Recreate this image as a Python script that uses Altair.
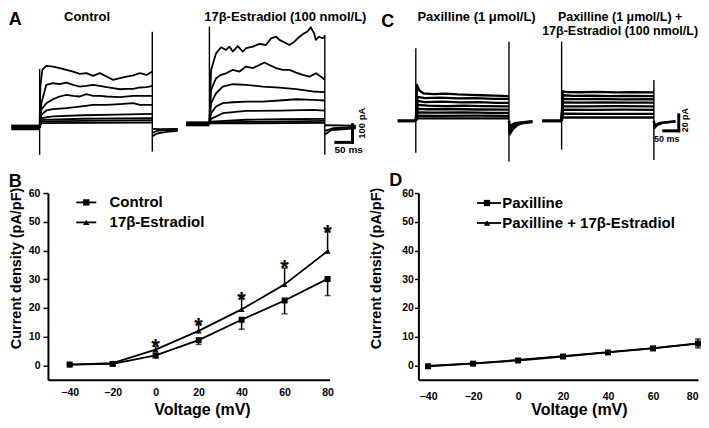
import altair as alt
import pandas as pd

FONT = "Liberation Sans"

# ================= Panel A: K+ current traces (t in ms, I in pA) =================
A_CTRL_TRACES = [
    [(0, 0), (2, 231), (8, 326), (20, 348), (40, 344), (60, 335), (80, 326), (100, 316), (120, 303), (140, 307),
     (160, 292), (180, 307), (200, 288), (220, 269), (240, 279), (260, 288), (280, 294), (300, 307), (320, 297), (337, 316)],
    [(0, 0), (5, 137), (20, 241), (40, 250), (60, 245), (80, 254), (100, 241), (120, 231), (140, 235), (160, 241),
     (180, 235), (200, 228), (220, 222), (240, 216), (260, 218), (280, 218), (300, 226), (320, 228), (337, 235)],
    [(0, 0), (5, 100), (20, 137), (40, 160), (60, 175), (80, 184), (100, 179), (120, 175), (140, 188), (160, 179),
     (180, 179), (200, 175), (240, 171), (280, 179), (320, 179), (337, 179)],
    [(0, 0), (5, 71), (20, 96), (40, 103), (80, 109), (120, 118), (160, 128), (200, 128), (240, 132), (280, 137),
     (300, 128), (337, 128)],
    [(0, 0), (5, 53), (40, 62), (130, 69), (230, 73), (337, 77)],
    [(0, 0), (5, 43), (130, 49), (337, 53)],
    [(0, 0), (5, 34), (130, 37), (337, 41)],
    [(0, 0), (5, 24), (337, 28)],
]
A_CTRL_TAILS = [
    [(338, -8), (360, -10), (413, -9)],
    [(338, -30), (350, -20), (380, -15), (413, -12)],
    [(338, -50), (350, -35), (380, -25), (413, -20)],
]
A_CTRL_HOLD_T = [-85, 0]          # holding period before the step (ms)
A_CTRL_HOLD_NOISE = [-16, 16]     # noise band of the superimposed holding currents (pA)
A_CTRL_SPIKES = [(0, -155, 330), (337, -136, 542)]

A_E2_TRACES = [
    [(0, 0), (5, 305), (20, 399), (35, 433), (50, 418), (60, 437), (70, 409), (85, 440), (100, 409), (110, 428),
     (130, 437), (150, 452), (170, 446), (185, 484), (200, 493), (210, 475), (230, 456), (240, 446), (255, 465),
     (270, 493), (284, 512), (294, 522), (304, 546), (314, 512), (319, 475), (329, 493), (339, 484), (346, 493)],
    [(0, 0), (5, 192), (20, 258), (35, 277), (50, 286), (70, 305), (90, 296), (110, 324), (130, 315), (150, 333),
     (165, 347), (180, 333), (200, 315), (220, 305), (240, 305), (260, 290), (280, 277), (300, 267), (320, 286),
     (334, 267), (346, 249)],
    [(0, 0), (5, 117), (20, 173), (40, 211), (70, 224), (110, 220), (160, 211), (210, 205), (260, 196), (310, 183), (346, 179)],
    [(0, 0), (5, 60), (20, 98), (40, 117), (70, 122), (110, 126), (160, 126), (210, 132), (260, 139), (310, 136), (346, 132)],
    [(0, 0), (5, 28), (40, 60), (110, 73), (210, 75), (310, 79), (346, 75)],
    [(0, 0), (5, 13), (110, 23), (210, 26), (346, 28)],
    [(0, 0), (5, 8), (110, 11), (346, 17)],
    [(0, 0), (5, 2), (346, 5)],
]
A_E2_TAILS = [
    [(347, -8), (439, -10)],
    [(347, -40), (370, -25), (439, -18)],
    [(347, -60), (365, -35), (439, -25)],
]
A_E2_HOLD_T = [-70, 0]
A_E2_HOLD_NOISE = [-14, 14]
A_E2_SPIKES = [(0, 0, 550), (346, -175, 503)]
A_SCALEBAR = [(379, -105, 429, -105), (429, -105, 429, -5)]   # 50 ms, 100 pA

# ================= Panel C: traces with paxilline =================
C_PAX_TRACES = [
    [(0, 0), (4, 45), (12, 38), (25, 34.5), (60, 33.5), (100, 34), (140, 33), (180, 32.5), (220, 32), (260, 31.5), (311, 31)],
    [(0, 0), (6, 30), (30, 28.5), (80, 29), (140, 28), (200, 28.5), (260, 27.5), (311, 27.5)],
    [(0, 0), (6, 25), (30, 23.5), (90, 24), (150, 23), (210, 23.5), (270, 22.5), (311, 22.5)],
    [(0, 0), (6, 20), (40, 19), (100, 18.5), (160, 19), (220, 18.5), (311, 18)],
    [(0, 0), (6, 15), (40, 14.5), (120, 14.8), (200, 14.2), (311, 14)],
    [(0, 0), (6, 10.5), (60, 10.2), (160, 10.5), (250, 10), (311, 10)],
    [(0, 0), (6, 6.5), (80, 6.3), (200, 6.5), (311, 6.2)],
    [(0, 0), (6, 3.2), (100, 3), (311, 3)],
]
C_PAX_TAILS = [
    [(311, 0), (313, -17), (325, -10), (340, -5), (355, -3), (389, -1.7)],
    [(311, 0), (313, -12), (325, -7), (345, -3), (389, -1)],
    [(311, 0), (313, -7), (330, -3), (389, -0.5)],
]
C_PAX_HOLD_T = [-61, 0]
C_PAX_HOLD_NOISE = [-2, 2]
C_PAX_SPIKES = [(0, -40, 91), (311, -51, 99)]

C_PE_TRACES = [
    [(0, 0), (4, 37), (20, 36), (60, 35.8), (120, 36.2), (180, 35.5), (240, 35.8), (308, 35.5)],
    [(0, 0), (4, 32), (40, 31.3), (100, 31.6), (160, 31), (220, 31.3), (308, 31)],
    [(0, 0), (4, 27.5), (50, 27.1), (120, 27.4), (200, 26.9), (308, 27)],
    [(0, 0), (4, 23.2), (60, 22.9), (150, 23.2), (230, 22.7), (308, 22.9)],
    [(0, 0), (4, 18.2), (80, 18), (180, 18.3), (308, 18)],
    [(0, 0), (4, 14), (100, 13.8), (200, 14), (308, 13.8)],
    [(0, 0), (4, 9), (120, 8.8), (308, 8.8)],
    [(0, 0), (4, 4.3), (150, 4.2), (308, 4.2)],
]
C_PE_TAILS = [
    [(308, 0), (310, -9), (320, -5), (340, -2), (380, -1)],
    [(308, 0), (310, -6), (325, -3), (380, -0.5)],
]
C_PE_HOLD_T = [-65, 0]
C_PE_HOLD_NOISE = [-2, 2]
C_PE_SPIKES = [(0, -36, 99), (308, -49, 51)]
C_SCALEBAR = [(341, -12.5, 391, -12.5), (391, -12.5, 391, 7.5)]   # 50 ms, 20 pA

# ================= Panels B and D: current density vs voltage =================
VOLTAGE = [-40, -20, 0, 20, 40, 60, 80]
B_CONTROL = [0.3, 0.5, 3.5, 8.8, 15.9, 22.6, 30.1]
B_CONTROL_ERR = [0.3, 0.3, 0.9, 1.5, 3.3, 4.6, 5.8]
B_E2 = [0.3, 0.8, 5.5, 12.0, 19.5, 28.2, 39.8]
B_E2_ERR = [0.3, 0.4, 1.1, 2.7, 4.5, 5.7, 7.4]
B_STAR_V = [0, 20, 40, 60, 80]
B_STAR_Y = [10.4, 18.0, 27.0, 38.0, 50.3]

D_PAX = [-0.3, 0.6, 1.7, 3.1, 4.5, 5.9, 7.6]
D_PAX_ERR = [0.3, 0.4, 0.4, 0.5, 0.5, 0.6, 1.5]
D_PE = [-0.2, 0.7, 1.9, 3.2, 4.6, 6.0, 7.7]
D_PE_ERR = [0.3, 0.4, 0.4, 0.5, 0.5, 0.6, 1.5]


def to_long(traces):
    rows = []
    for k, tr in enumerate(traces):
        for j, (t, c) in enumerate(tr):
            rows.append({"trace": k, "ord": j, "t": t, "I": c})
    return pd.DataFrame(rows)


def trace_layer(traces, tails, hold_t, hold_noise, spikes, xdom, ydom, lw, scalebar=None):
    xs = alt.Scale(domain=xdom, nice=False, zero=False)
    ys = alt.Scale(domain=ydom, nice=False, zero=False)
    lines = alt.Chart(to_long(traces + tails)).mark_line(
        color="black", strokeWidth=lw, strokeJoin="round").encode(
        x=alt.X("t:Q", scale=xs, axis=None),
        y=alt.Y("I:Q", scale=ys, axis=None),
        detail="trace:N", order="ord:Q")
    hold_df = pd.DataFrame({"t0": [hold_t[0]], "t1": [hold_t[1]],
                            "lo": [hold_noise[0]], "hi": [hold_noise[1]]})
    hold_band = alt.Chart(hold_df).mark_rect(color="black").encode(
        x=alt.X("t0:Q", scale=xs, axis=None), x2="t1:Q",
        y=alt.Y("lo:Q", scale=ys, axis=None), y2="hi:Q")
    spk = pd.DataFrame(spikes, columns=["t", "lo", "hi"])
    spike_rules = alt.Chart(spk).mark_rule(color="black", strokeWidth=1.4).encode(
        x=alt.X("t:Q", scale=xs, axis=None), y=alt.Y("lo:Q", scale=ys, axis=None), y2="hi:Q")
    layers = [hold_band, lines, spike_rules]
    if scalebar is not None:
        sb = pd.DataFrame(scalebar, columns=["t1", "I1", "t2", "I2"])
        layers.append(alt.Chart(sb).mark_rule(color="black", strokeWidth=3, strokeCap="square").encode(
            x=alt.X("t1:Q", scale=xs, axis=None), x2="t2:Q",
            y=alt.Y("I1:Q", scale=ys, axis=None), y2="I2:Q"))
    return alt.layer(*layers)


def label(text, x, y, size, align="center", baseline="top", angle=0):
    return alt.Chart(pd.DataFrame({"s": [text]})).mark_text(
        font=FONT, fontWeight="bold", fontSize=size, align=align, baseline=baseline,
        angle=angle, color="black").encode(x=alt.value(x), y=alt.value(y), text="s:N")


LEFT = -39.3   # left edge of panel letters / y titles, relative to the first column
TOP_H = 157

# ---------- Panel A cell ----------
A_ctrl = trace_layer(A_CTRL_TRACES, A_CTRL_TAILS, A_CTRL_HOLD_T, A_CTRL_HOLD_NOISE, A_CTRL_SPIKES,
                     [24.85, 867.2], [-229.9, 657.1], 1.8)
A_e2 = trace_layer(A_E2_TRACES, A_E2_TAILS, A_E2_HOLD_T, A_E2_HOLD_NOISE, A_E2_SPIKES,
                   [-484.1, 360.2], [-250.3, 636.7], 1.8, A_SCALEBAR)
A = alt.layer(
    A_ctrl, A_e2,
    label("A", LEFT, 0, 18, align="left"),
    label("Control", 39.2, 0, 13),
    label("17β-Estradiol (100 nmol/L)", 237.7, 0, 13),
    label("50 ms", 301.2, 139, 10, baseline="middle"),
    label("100 pA", 314.7, 112, 9.5, baseline="middle", angle=270),
).resolve_scale(x="independent", y="independent").properties(width=282, height=TOP_H)

# ---------- Panel C cell ----------
C_pax = trace_layer(C_PAX_TRACES, C_PAX_TAILS, C_PAX_HOLD_T, C_PAX_HOLD_NOISE, C_PAX_SPIKES,
                    [8.67, 942.0], [-59.1, 137.1], 2.3)
C_pe = trace_layer(C_PE_TRACES, C_PE_TAILS, C_PE_HOLD_T, C_PE_HOLD_NOISE, C_PE_SPIKES,
                   [-478.0, 455.3], [-59.1, 137.1], 2.3, C_SCALEBAR)
C = alt.layer(
    C_pax, C_pe,
    label("C", -37.3, 2, 18, align="left"),
    label("Paxilline (1 μmol/L)", 58.2, 0, 13),
    label("Paxilline (1 μmol/L) +", 202.0, 0, 12.5),
    label("17β-Estradiol (100 nmol/L)", 202.0, 14, 12.5),
    label("50 ms", 248.7, 128, 9, baseline="middle"),
    label("20 pA", 266.7, 109, 9, baseline="middle", angle=270),
).resolve_scale(x="independent", y="independent").properties(width=280, height=TOP_H)


# ---------- I-V panels ----------
def iv_panel(names, s1, e1, s2, e2, xdom, letter, letter_xy, ytitle_x, xtitle_x,
             x_label_pad, y_label_pad, y_tick, legend_geo, stars=None, flush=False):
    rows = []
    for v, a, ea, b, eb in zip(VOLTAGE, s1, e1, s2, e2):
        rows.append({"series": names[0], "v": v, "y": a, "lo": a - ea, "hi": a, "cap": a - ea})
        rows.append({"series": names[1], "v": v, "y": b, "lo": b, "hi": b + eb, "cap": b + eb})
    df = pd.DataFrame(rows)
    xs = alt.Scale(domain=xdom, nice=False, zero=False)
    ys = alt.Scale(domain=[-5, 60], nice=False, zero=False)
    xkw = dict(values=VOLTAGE, title="Voltage (mV)", ticks=False, labelPadding=x_label_pad,
               titleX=xtitle_x, titleY=22, titleBaseline="top", titleAlign="center")
    if flush:
        xkw["labelFlush"] = 5
    xax = alt.Axis(**xkw)
    yax = alt.Axis(values=[0, 10, 20, 30, 40, 50, 60], title="Current density (pA/pF)",
                   tickSize=y_tick, labelPadding=y_label_pad, titleX=ytitle_x, titleY=75,
                   titleAngle=270, titleBaseline="top", titleAlign="center")
    X = alt.X("v:Q", scale=xs, axis=xax)
    base = alt.Chart(df)
    err = base.mark_rule(color="black", strokeWidth=1.5).encode(
        x=X, y=alt.Y("lo:Q", scale=ys, axis=yax), y2="hi:Q")
    caps = base.mark_tick(color="black", orient="horizontal", size=6, thickness=1.5).encode(
        x=X, y=alt.Y("cap:Q", scale=ys, axis=yax))
    line = base.mark_line(color="black", strokeWidth=1.8, strokeJoin="round").encode(
        x=X, y=alt.Y("y:Q", scale=ys, axis=yax), detail="series:N")
    pts = base.mark_point(filled=True, opacity=1, color="black", size=36).encode(
        x=X, y=alt.Y("y:Q", scale=ys, axis=yax),
        shape=alt.Shape("series:N", scale=alt.Scale(domain=names, range=["square", "triangle-up"]), legend=None))
    layers = [err, caps, line, pts]
    if stars is not None:
        sdf = pd.DataFrame({"v": stars[0], "y": stars[1]})
        layers.append(alt.Chart(sdf).mark_text(text="*", font=FONT, fontWeight="bold", fontSize=22,
                                               dy=12, color="black").encode(
            x=X, y=alt.Y("y:Q", scale=ys, axis=yax)))
    # legend (drawn)
    lx0, lx1, lmx, ltx, ly = legend_geo
    for i, (nm, shp) in enumerate(zip(names, ["square", "triangle-up"])):
        yy = ly[i]
        one = pd.DataFrame({"s": [nm]})
        layers.append(alt.Chart(one).mark_rule(color="black", strokeWidth=1.8).encode(
            x=alt.value(lx0), x2=alt.value(lx1), y=alt.value(yy)))
        layers.append(alt.Chart(one).mark_point(shape=shp, filled=True, opacity=1, color="black",
                                                size=40).encode(x=alt.value(lmx), y=alt.value(yy)))
        layers.append(alt.Chart(one).mark_text(font=FONT, fontWeight="bold", fontSize=15, align="left",
                                               baseline="middle", color="black").encode(
            x=alt.value(ltx), y=alt.value(yy), text="s:N"))
    layers.append(label(letter, letter_xy[0], letter_xy[1], 18, align="left"))
    return alt.layer(*layers)


B = iv_panel(["Control", "17β-Estradiol"], B_CONTROL, B_CONTROL_ERR, B_E2, B_E2_ERR,
             [-50.1, 80.9], "B", (LEFT, -20), LEFT + 1, 154.2, 8, 3, 5,
             (28.4, 48.4, 38.4, 61.7, [9.4, 29.4]), stars=(B_STAR_V, B_STAR_Y)
             ).properties(width=282, height=187)

D = iv_panel(["Paxilline", "Paxilline + 17β-Estradiol"], D_PAX, D_PAX_ERR, D_PE, D_PE_ERR,
             [-44.3, 80.0], "D", (-29.3, -21), -49.3, 160.7, 12, 1, 4,
             (58.7, 82.7, 68.7, 84.0, [10.0, 30.0]), flush=True
             ).properties(width=280, height=187)

chart = alt.concat(A, C, B, D, columns=2, spacing={"row": 25, "column": 89}, bounds="flush").properties(
    padding={"top": 3, "left": 0, "right": 0, "bottom": 0}
).configure_view(stroke=None).configure_axis(
    domainColor="black", domainWidth=2, tickColor="black", tickWidth=1.5, grid=False,
    labelFont=FONT, labelFontSize=10.5, labelFontWeight="bold", labelColor="black",
    titleFont=FONT, titleFontWeight="bold", titleColor="black"
).configure_axisX(titleFontSize=16).configure_axisY(titleFontSize=14.5)

chart.save("out.html", embed_options={"renderer": "svg", "actions": False})
